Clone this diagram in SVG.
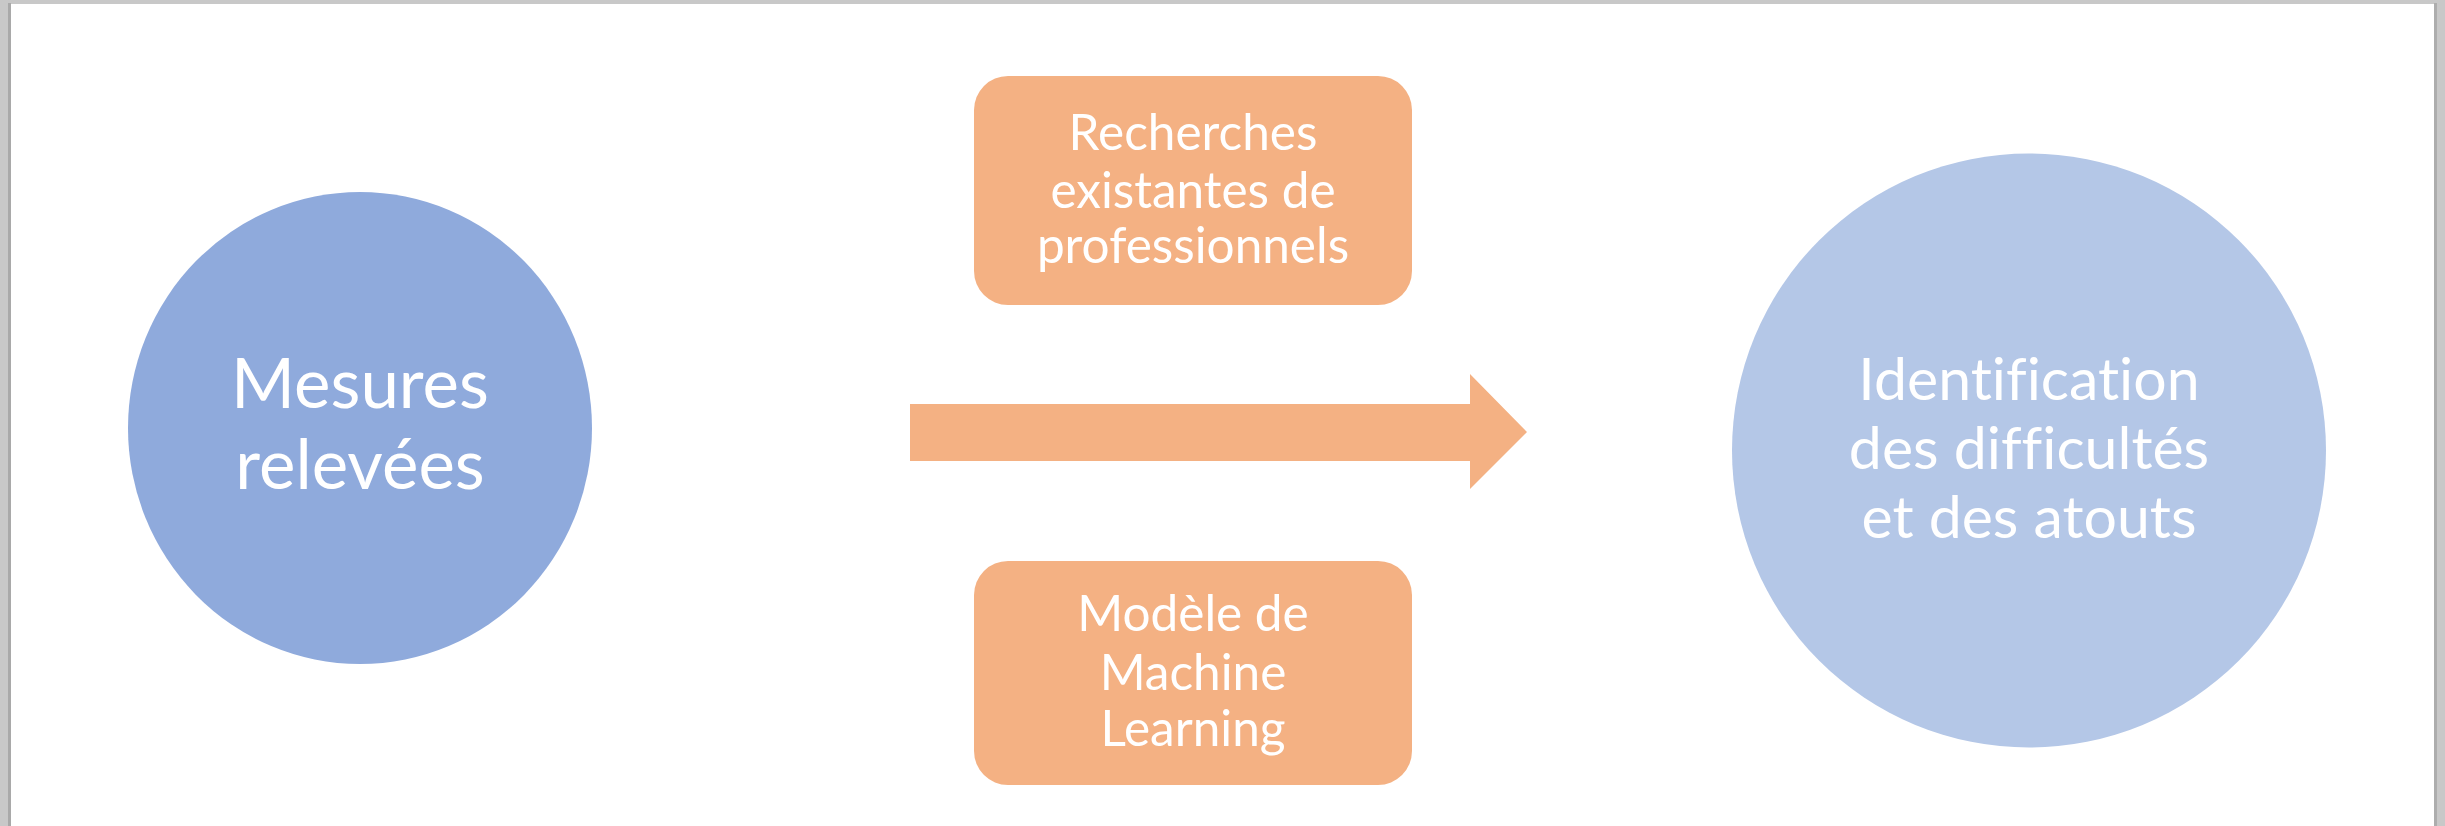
<svg xmlns="http://www.w3.org/2000/svg" width="2445" height="826" viewBox="0 0 2445 826">
<style>
.lbl{font-family:Lato,"Liberation Sans",sans-serif;fill:#ffffff;text-anchor:middle;font-variant-ligatures:none;font-feature-settings:"liga" 0}
.box{fill:#F4B183}
</style>
<rect x="0" y="0" width="2445" height="826" fill="#c8c8c8"/>
<rect x="8" y="3" width="3" height="823" fill="#a9a9a9"/>
<rect x="2434" y="3" width="3" height="823" fill="#adadad"/>
<rect x="11" y="4" width="2423" height="822" fill="#ffffff"/>
<g id="connectors">
<path d="M910,404 H1470 V374 L1527,432 L1470,489 V461 H910 Z" fill="#F4B183"/>
</g>
<g id="n-mesures">
<ellipse cx="360" cy="428" rx="232" ry="236" fill="#8FAADC"/>
<text class="lbl" font-size="69" x="360" y="408">Mesures</text>
<text class="lbl" font-size="69" x="360" y="489">relevées</text>
</g>
<g id="n-recherches">
<rect class="box" x="974" y="76" width="438" height="229" rx="34"/>
<text class="lbl" font-size="49.5" x="1193" y="150">Recherches</text>
<text class="lbl" font-size="49.5" x="1193" y="208">existantes de</text>
<text class="lbl" font-size="49.5" x="1193" y="263">professionnels</text>
</g>
<g id="n-ml">
<rect class="box" x="974" y="561" width="438" height="224" rx="34"/>
<text class="lbl" font-size="49.5" x="1193" y="631">Modèle de</text>
<text class="lbl" font-size="49.5" x="1193" y="690">Machine</text>
<text class="lbl" font-size="49.5" x="1193" y="746">Learning</text>
</g>
<g id="n-identification">
<circle cx="2029" cy="450.5" r="297" fill="#B4C7E7"/>
<text class="lbl" font-size="59" x="2029" y="400">Identification</text>
<text class="lbl" font-size="59" x="2029" y="469">des difficultés</text>
<text class="lbl" font-size="59" x="2029" y="538">et des atouts</text>
</g>
</svg>
